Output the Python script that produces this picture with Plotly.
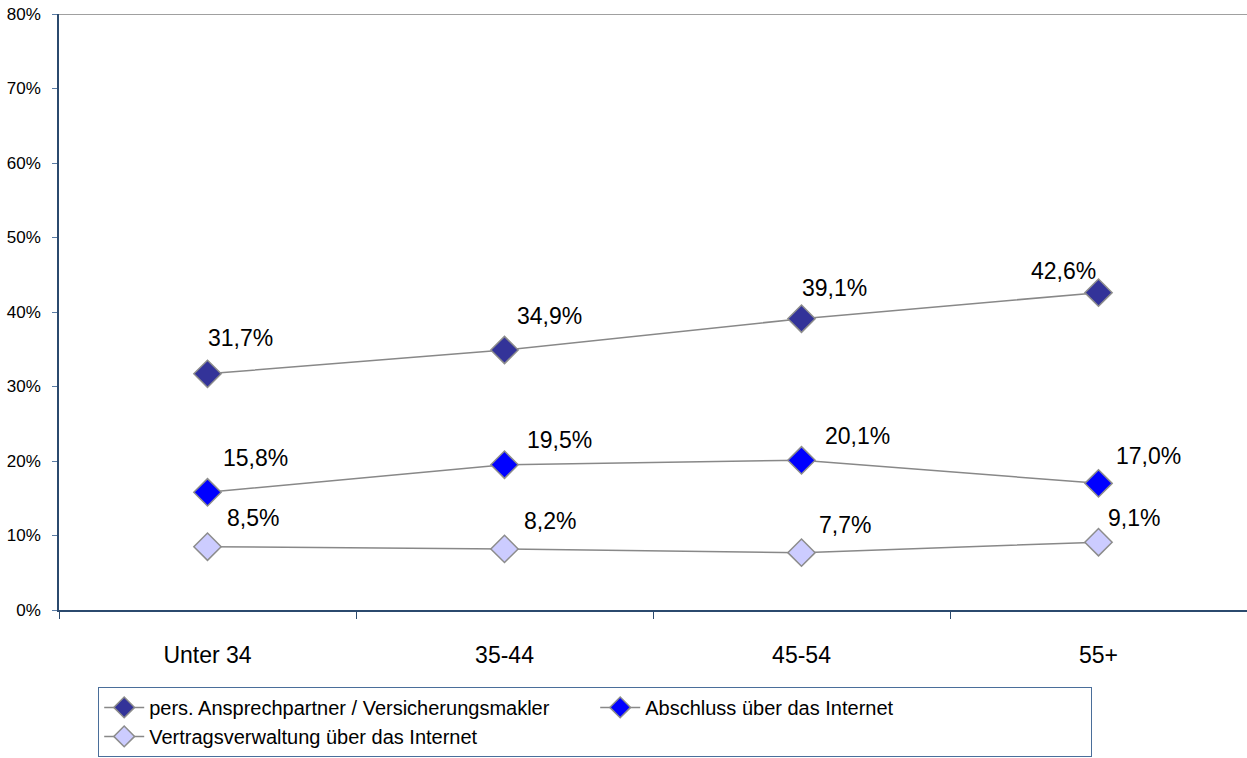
import plotly.graph_objects as go

# Daten
categories = ["Unter 34", "35-44", "45-54", "55+"]
series_names = [
    "pers. Ansprechpartner / Versicherungsmakler",
    "Abschluss über das Internet",
    "Vertragsverwaltung über das Internet",
]
pers_ansprech = [31.7, 34.9, 39.1, 42.6]
abschluss_internet = [15.8, 19.5, 20.1, 17.0]
vertrag_internet = [8.5, 8.2, 7.7, 9.1]
y_ticks = [0, 10, 20, 30, 40, 50, 60, 70, 80]

# Stil
marker_colors = ["#333399", "#0000FF", "#CCCCFF"]
# Verschiebung der Datenbeschriftungen (Pixel) wie im Original
label_shift = [
    [(33, 36), (45, 34), (33, 31), (-35, 22)],
    [(48, 34), (55, 25), (56, 24), (50, 27)],
    [(45, 29), (45, 28), (43, 28), (35, 24)],
]
FONT = "Liberation Sans, Arial, sans-serif"
AXIS_COLOR = "#2B4A6E"

fig = go.Figure()
annotations = []

for i, (name, values) in enumerate(zip(series_names, [pers_ansprech, abschluss_internet, vertrag_internet])):
    fig.add_trace(go.Scatter(
        x=categories,
        y=values,
        mode="lines+markers",
        name=name,
        line=dict(color="#888888", width=1.5),
        marker=dict(symbol="diamond", size=21, color=marker_colors[i],
                    line=dict(color="#8C8C8C", width=1.5)),
    ))
    for j, v in enumerate(values):
        dx, dy = label_shift[i][j]
        annotations.append(dict(
            x=categories[j], y=v, xref="x", yref="y",
            text=f"{v:.1f}%".replace(".", ","),
            showarrow=False, xanchor="center", yanchor="middle",
            xshift=dx, yshift=dy,
            font=dict(family=FONT, size=23, color="black"),
        ))

fig.update_layout(
    width=1247, height=758,
    margin=dict(l=59, r=0, t=14, b=148),
    paper_bgcolor="white",
    plot_bgcolor="white",
    font=dict(family=FONT, color="black"),
    annotations=annotations,
    showlegend=True,
    legend=dict(
        orientation="h",
        x=0.033, xanchor="left",
        y=-0.129, yanchor="top",
        bordercolor="#4A6E9A", borderwidth=1,
        font=dict(family=FONT, size=20, color="black"),
        entrywidth=441,
        itemwidth=40,
        traceorder="normal",
    ),
    shapes=[dict(type="line", xref="paper", yref="y", x0=0, x1=1, y0=80, y1=80,
                 line=dict(color="#A0A0A0", width=2))],
)

fig.update_xaxes(
    type="category",
    range=[-0.5, 3.5],
    automargin=False,
    showgrid=False,
    showline=True, linecolor=AXIS_COLOR, linewidth=1.5,
    ticks="outside", tickson="boundaries", ticklen=7, tickcolor=AXIS_COLOR,
    ticklabelstandoff=24,
    tickfont=dict(family=FONT, size=23, color="black"),
    zeroline=False,
)
fig.update_yaxes(
    range=[0, 80],
    automargin=False,
    tickvals=y_ticks,
    ticktext=[f"{t}%" for t in y_ticks],
    showgrid=False,
    showline=True, linecolor=AXIS_COLOR, linewidth=1.5,
    ticks="outside", ticklen=5, tickcolor="#5A7CA5",
    ticklabelstandoff=8,
    tickfont=dict(family=FONT, size=17, color="black"),
    zeroline=False,
)

# Seitenrand des Browsers entfernen, damit die Grafik bei (0,0) beginnt
fig.write_html("out.html", config={"displayModeBar": False},
               post_script="document.body.style.margin='0';")
